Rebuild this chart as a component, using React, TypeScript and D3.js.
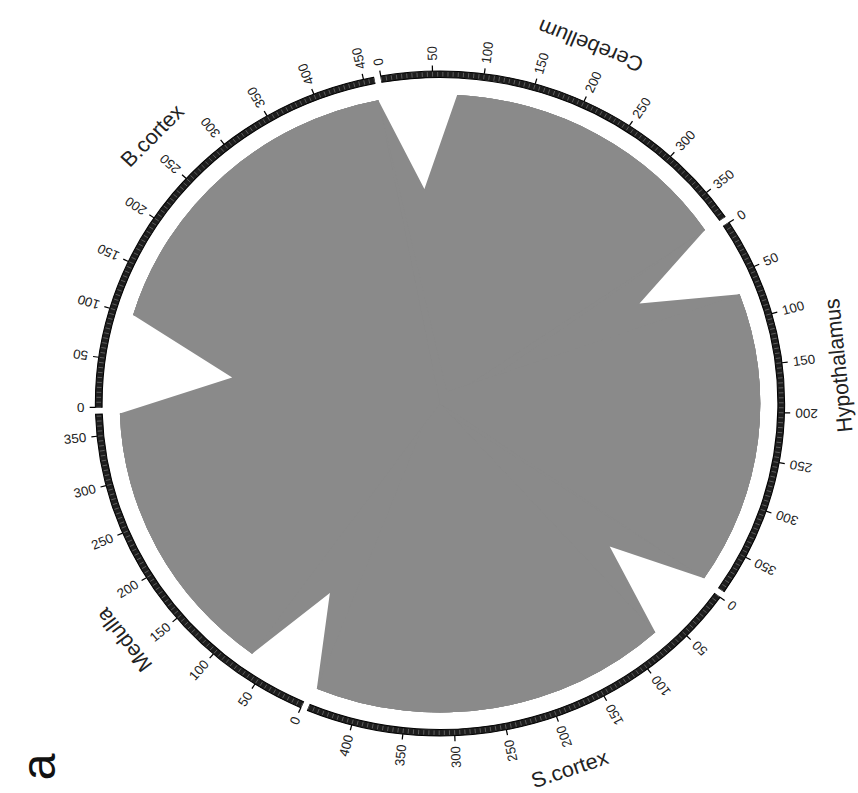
import React from 'react';
import * as d3 from 'd3';

// Segments (ideograms) in clockwise order
const segments = ['Cerebellum', 'Hypothalamus', 'S.cortex', 'Medulla', 'B.cortex'];
const segmentLengths = [380, 390, 445, 372, 460];
// linked stretch of every segment (start .. end, segment units)
const linkedStart = [75, 71, 70, 70, 100];
const linkedEnd = [380, 390, 445, 372, 460];
// where the segment name sits along its segment (segment units)
const labelAt = [185, 158, 205, 164, 258];
// links: every pair of segments
const linkPairs: [string, string][] = [
  ['Cerebellum', 'Hypothalamus'],
  ['Cerebellum', 'S.cortex'],
  ['Cerebellum', 'Medulla'],
  ['Cerebellum', 'B.cortex'],
  ['Hypothalamus', 'S.cortex'],
  ['Hypothalamus', 'Medulla'],
  ['Hypothalamus', 'B.cortex'],
  ['S.cortex', 'Medulla'],
  ['S.cortex', 'B.cortex'],
  ['Medulla', 'B.cortex'],
];
const tickStep = 50;
const minorStep = 5;

export default function App() {
  const W = 858, H = 793;
  const cx = 440, cy = 403.5, sx = 1.0365;
  const ringIn = 326, ringOut = 332.5, chordR = 309;
  const tickOut = 338, tickLabelR = 343, labelR = 386;
  const gapDeg = 1.2, startDeg = -9.9;
  const rad = Math.PI / 180;
  const n = segments.length;
  const total = d3.sum(segmentLengths);
  const dpu = (360 - n * gapDeg) / total;

  let acc = startDeg;
  const scales = segmentLengths.map((L) => {
    const s = d3.scaleLinear().domain([0, L]).range([acc * rad, (acc + L * dpu) * rad]);
    acc += L * dpu + gapDeg;
    return s;
  });

  const P = (a: number, r: number) => [r * Math.sin(a), -r * Math.cos(a)];
  // link edge bend point: near the rim for close endpoints, at the centre for far ones
  const bend = (a: number, b: number, r: number) => {
    let d = Math.abs(a - b) % (2 * Math.PI);
    if (d > Math.PI) d = 2 * Math.PI - d;
    const k = 0.76 * Math.exp(-Math.pow(d / (50 * rad), 2));
    const A = P(a, r), B = P(b, r);
    return [(k * (A[0] + B[0])) / 2, (k * (A[1] + B[1])) / 2];
  };
  const ribbonPath = (a0: number, a1: number, b0: number, b1: number, r: number) => {
    const p = d3.path();
    const s0 = P(a0, r);
    p.moveTo(s0[0], s0[1]);
    p.arc(0, 0, r, a0 - Math.PI / 2, a1 - Math.PI / 2);
    let c = bend(a1, b0, r);
    let q = P(b0, r);
    p.lineTo(c[0], c[1]);
    p.lineTo(q[0], q[1]);
    p.arc(0, 0, r, b0 - Math.PI / 2, b1 - Math.PI / 2);
    c = bend(b1, a0, r);
    q = P(a0, r);
    p.lineTo(c[0], c[1]);
    p.lineTo(q[0], q[1]);
    p.closePath();
    return p.toString();
  };

  const links = linkPairs.map(([a, b]) => {
    const i = segments.indexOf(a), j = segments.indexOf(b);
    return {
      key: `${a}-${b}`,
      d: ribbonPath(
        scales[i](linkedStart[i]), scales[i](linkedEnd[i]),
        scales[j](linkedStart[j]), scales[j](linkedEnd[j]),
        chordR
      ),
    };
  });

  const arcGen = d3.arc<any>().innerRadius(ringIn).outerRadius(ringOut);
  const font = "'Liberation Sans', Arial, sans-serif";
  const norm = (deg: number) => ((deg % 360) + 360) % 360;

  return (
    <svg width={W} height={H} style={{ position: 'absolute', left: 0, top: 0, background: '#fff' }}>
      <g transform={`translate(${cx},${cy}) scale(${sx},1)`}>
        <g fill="#8a8a8a">
          {links.map((l) => (
            <path key={l.key} d={l.d} />
          ))}
        </g>
        {segments.map((name, i) => {
          const s = scales[i];
          const L = segmentLengths[i];
          const [a0, a1] = s.range();
          const minor = d3.range(0, L + 0.001, minorStep);
          const major = d3.range(0, L + 0.001, tickStep);
          const la = norm(s(labelAt[i]) / rad);
          const rot = la <= 180 ? la - 180 : la - 360;
          const lp = P(la * rad, labelR);
          return (
            <g key={name}>
              <path d={arcGen({ startAngle: a0, endAngle: a1 }) as string} fill="#1e1e1e" stroke="#000" strokeWidth={1} />
              {minor.map((v) => {
                const a = s(v);
                const p0 = P(a, ringIn + 1), p1 = P(a, ringOut - 1);
                return <line key={'m' + v} x1={p0[0]} y1={p0[1]} x2={p1[0]} y2={p1[1]} stroke="#777" strokeWidth={0.7} />;
              })}
              {major.map((v) => {
                const a = s(v);
                const p0 = P(a, ringOut), p1 = P(a, tickOut);
                const th = norm(a / rad);
                const outward = th <= 90 || th >= 270;
                const r = outward ? th - 90 : th + 90;
                const tp = P(a, tickLabelR);
                return (
                  <g key={'M' + v}>
                    <line x1={p0[0]} y1={p0[1]} x2={p1[0]} y2={p1[1]} stroke="#000" strokeWidth={1.2} />
                    <text
                      transform={`translate(${tp[0]},${tp[1]}) rotate(${r})`}
                      textAnchor={outward ? 'start' : 'end'}
                      dy="0.35em"
                      fontSize={13}
                      fontFamily={font}
                      fill="#222"
                    >
                      {v}
                    </text>
                  </g>
                );
              })}
              <text
                transform={`translate(${lp[0]},${lp[1]}) rotate(${rot})`}
                textAnchor="middle"
                dy="0.35em"
                fontSize={21}
                fontFamily={font}
                fill="#222"
              >
                {name}
              </text>
            </g>
          );
        })}
      </g>
      <text transform="translate(38,767) rotate(-90)" textAnchor="middle" dy="0.35em" fontSize={48} fontFamily={font} fill="#111">
        a
      </text>
    </svg>
  );
}
